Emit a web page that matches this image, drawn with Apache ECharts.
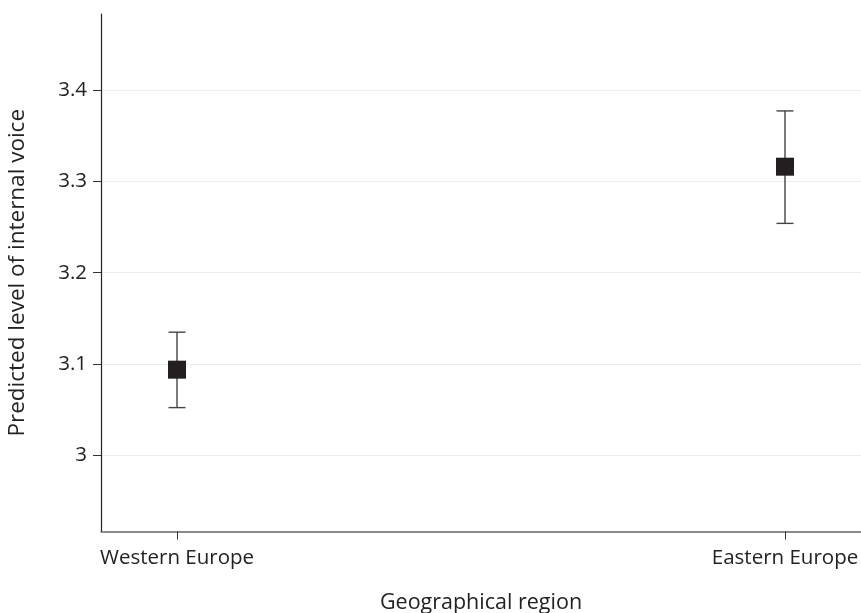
<!DOCTYPE html>
<html>
<head>
<meta charset="utf-8">
<script src="https://cdn.jsdelivr.net/npm/echarts@6/dist/echarts.min.js"></script>
<style>html,body{margin:0;padding:0;background:#fff}#c{width:861px;height:613px}</style>
</head>
<body>
<div id="c"></div>
<script>
const categories = ['Western Europe', 'Eastern Europe'];
const estimates = [3.094, 3.316];
const lowerCI = [3.0525, 3.254];
const upperCI = [3.135, 3.377];
const yTicks = [3, 3.1, 3.2, 3.3, 3.4];
const yLabels = ['3', '3.1', '3.2', '3.3', '3.4'];

const font = '"Open Sans", "Noto Sans", sans-serif';
const chart = echarts.init(document.getElementById('c'));
const xIdx = categories.map((c, i) => i);

chart.setOption({
  animation: false,
  grid: { left: 101, right: 0, top: 14, bottom: 81.5, containLabel: false, outerBoundsMode: 'none' },
  xAxis: {
    type: 'value', min: -0.125, max: 1.125,
    name: 'Geographical region', nameLocation: 'middle', nameGap: 60,
    nameTextStyle: { fontFamily: font, fontSize: 21.5, color: '#222' },
    axisLine: { show: true, onZero: false, lineStyle: { color: '#666', width: 1.5 } },
    axisTick: { show: true, customValues: xIdx, length: 8, lineStyle: { color: '#333' } },
    axisLabel: { customValues: xIdx, margin: 16, fontFamily: font, fontSize: 20.5, color: '#222',
      formatter: v => categories[Math.round(v)] },
    splitLine: { show: false }
  },
  yAxis: {
    type: 'value', min: 2.917, max: 3.483,
    name: 'Predicted level of internal voice', nameLocation: 'middle', nameGap: 72,
    nameTextStyle: { fontFamily: font, fontSize: 22.5, color: '#222' },
    axisLine: { show: true, onZero: false, lineStyle: { color: '#222', width: 1.2 } },
    axisTick: { show: true, customValues: yTicks, length: 8, lineStyle: { color: '#333' } },
    axisLabel: { customValues: yTicks, margin: 14, fontFamily: font, fontSize: 20.5, color: '#222',
      formatter: v => yLabels[yTicks.findIndex(t => Math.abs(t - v) < 1e-6)] },
    splitLine: { show: true, lineStyle: { color: '#e6eef0', width: 1 } }
  },
  series: [
    {
      type: 'custom',
      data: xIdx.map(i => [i, lowerCI[i], upperCI[i]]),
      renderItem: function (params, api) {
        const x = api.value(0);
        const lo = api.coord([x, api.value(1)]);
        const hi = api.coord([x, api.value(2)]);
        const hw = 8.5;
        const style = { stroke: '#444', lineWidth: 1.4 };
        return {
          type: 'group',
          children: [
            { type: 'line', shape: { x1: lo[0], y1: lo[1], x2: hi[0], y2: hi[1] }, style },
            { type: 'line', shape: { x1: lo[0] - hw, y1: lo[1], x2: lo[0] + hw, y2: lo[1] }, style },
            { type: 'line', shape: { x1: hi[0] - hw, y1: hi[1], x2: hi[0] + hw, y2: hi[1] }, style }
          ]
        };
      },
      z: 2
    },
    {
      type: 'scatter',
      data: xIdx.map(i => [i, estimates[i]]),
      symbol: 'rect', symbolSize: 18,
      itemStyle: { color: '#231f20', opacity: 1 },
      z: 3
    }
  ]
});
</script>
</body>
</html>
